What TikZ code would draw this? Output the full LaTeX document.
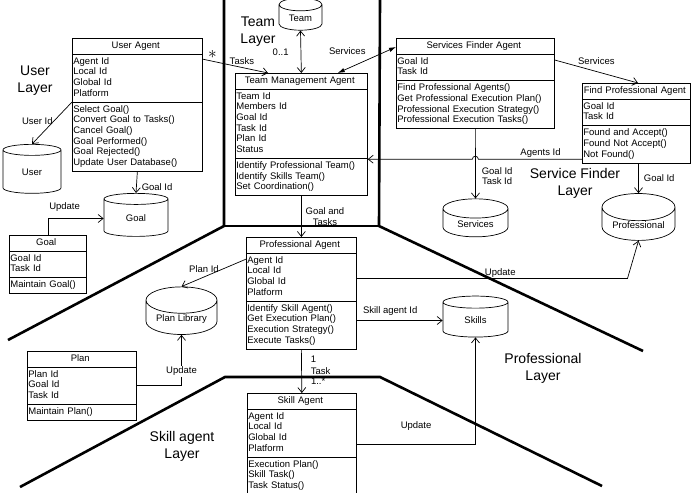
\documentclass[tikz,border=0pt]{standalone}
\usepackage{fontspec}
\setmainfont{Liberation Sans}
\usepackage{tikz}
\usetikzlibrary{positioning, arrows.meta, shapes.geometric,
                shapes.multipart, calc}

\begin{document}
\begin{tikzpicture}[
  x=1pt, y=-1pt,
  >={Straight Barb[length=5pt,width=8pt]},
  every node/.style={font=\fontsize{9.5}{10.7}\selectfont}
]
\tikzset{
  cls/.style    ={rectangle split, rectangle split parts=3, draw=black,
                  line width=0.7pt, align=left, anchor=north west,
                  inner xsep=1pt, inner ysep=2.2pt,
                  every text node part/.style={align=center},
                  execute at begin node=\strut, execute at end node=\strut},
  db/.style     ={cylinder, shape border rotate=90, aspect=0.5,
                  draw=black, line width=0.7pt, inner sep=1pt},
  arr/.style    ={->, line width=0.7pt},
  biarr/.style  ={{Latex[length=7pt,width=4.5pt]}-{Latex[length=7pt,width=4.5pt]},
                  line width=0.7pt},
  lab/.style    ={inner sep=1pt, align=center},
  layer/.style  ={font=\fontsize{14}{17}\selectfont, align=center},
  wall/.style   ={line width=2.6pt}
}
\useasboundingbox (0,0) rectangle (692,492);

%% ----- Layer borders -----
\draw[wall] (224,0) -- (224,226) -- (8,340);
\draw[wall] (224,226) -- (379,226);
\draw[wall] (380,0) -- (379,226) -- (643,351);
\draw[wall] (20,487) -- (225,377) -- (380,377) -- (602,486);

\node[layer] (lu) at (35,81)   {User\\Layer};
\node[layer] (lt) at (258,32)  {Team\\Layer};
\node[layer] (ls) at (575,183) {Service Finder\\Layer};
\node[layer] (lp) at (543,368) {Professional\\Layer};
\node[layer] (lk) at (182,446) {Skill agent\\Layer};

%% ----- User layer -----
\node[cls, text width=128pt] (ua) at (72,38)
  {User Agent
   \nodepart{two}Agent Id\\Local Id\\Global Id\\Platform
   \nodepart{three}Select Goal()\\Convert Goal to Tasks()\\Cancel Goal()\\
   Goal Performed()\\Goal Rejected()\\Update User Database()};
\node[db, minimum width=58pt, minimum height=49pt] (usr) at (32,172.5) {User};
\node[db, minimum width=64pt, minimum height=43pt] (goal) at (136,218.5) {Goal};
\node[cls, text width=75pt] (gcl) at (9,235)
  {Goal
   \nodepart{two}Goal Id\\Task Id
   \nodepart{three}Maintain Goal()};

\draw[arr] (ua.two split west) -- (usr.north)
  node[lab, pos=0.45, left] {User Id};
\draw[arr] (ua.south) -- (goal.north)
  node[lab, pos=0.7, right=4pt] {Goal Id};
\draw[arr] (gcl.north) |- (goal.west)
  node[lab, pos=0.65, above=6pt] {Update};

%% ----- Team layer -----
\node[db, minimum width=43pt, minimum height=32pt] (team) at (300.5,18.5) {Team};
\node[cls, text width=130pt] (tma) at (235,73)
  {Team Management Agent
   \nodepart{two}Team Id\\Members Id\\Goal Id\\Task Id\\Plan Id\\Status
   \nodepart{three}Identify Professional Team()\\Identify Skills Team()\\
   Set Coordination()};

\draw[<->, line width=0.7pt] (team.south) -- (tma.north)
  node[lab, midway, left=11pt] {0..1};
\draw[arr] ([yshift=-5pt]ua.text split east) -- ([xshift=33pt]tma.north west)
  node[lab, pos=0.15, above=1pt] {\fontsize{17}{17}\selectfont$\ast$}
  node[lab, pos=0.6, above=2pt] {Tasks};

%% ----- Service finder layer -----
\node[cls, text width=156pt] (sfa) at (396,38)
  {Services Finder Agent
   \nodepart{two}Goal Id\\Task Id
   \nodepart{three}Find Professional Agents()\\Get Professional Execution Plan()\\
   Professional Execution Strategy()\\Professional Execution Tasks()};
\node[cls, text width=106pt] (fpa) at (582,83)
  {Find Professional Agent
   \nodepart{two}Goal Id\\Task Id
   \nodepart{three}Found and Accept()\\Found Not Accept()\\Not Found()};
\node[db, minimum width=65pt, minimum height=38pt] (srv) at (475.5,224) {Services};
\node[db, minimum width=73pt, minimum height=41pt] (prof) at (638.5,225.5) {Professional};

\draw[biarr] ([xshift=-30pt]tma.north east) -- ([yshift=-9pt]sfa.north west)
  node[lab, midway, anchor=south east, yshift=4pt] {Services};
\draw[arr] ([yshift=-22pt]sfa.north east) -- ([xshift=56pt]fpa.north west)
  node[lab, midway, above=6pt] {Services};
\draw[arr] ([yshift=4pt]fpa.south west) coordinate (aid)
  -- node[lab, pos=0.4, above] {Agents Id} ([xshift=3pt]aid -| sfa.south)
  arc[start angle=0, end angle=180, radius=3pt]
  -- (aid -| tma.east);
\draw[arr] (sfa.south) -- (srv.north)
  node[lab, pos=0.68, right=5pt] {Goal Id\\Task Id};
\draw[arr] (prof.north |- fpa.south) -- (prof.north)
  node[lab, midway, right=4pt] {Goal Id};

%% ----- Professional layer -----
\node[cls, text width=108pt] (pa) at (246,237)
  {Professional Agent
   \nodepart{two}Agent Id\\Local Id\\Global Id\\Platform
   \nodepart{three}Identify Skill Agent()\\Get Execution Plan()\\
   Execution Strategy()\\Execute Tasks()};
\node[db, minimum width=71pt, minimum height=42pt] (plib) at (181.5,319) {Plan Library};
\node[db, minimum width=65pt, minimum height=41pt] (skl) at (475.5,320.5) {Skills};
\node[cls, text width=107pt] (plan) at (27,351)
  {Plan
   \nodepart{two}Plan Id\\Goal Id\\Task Id
   \nodepart{three}Maintain Plan()};

\draw[arr] (tma.south) -- (pa.north)
  node[lab, midway, right=3pt] {Goal and\\Tasks};
\draw[arr] ([yshift=-6pt]pa.text split west) -- (plib.north)
  node[lab, pos=0.37, left=2pt] {Plan Id};
\draw[arr] ([yshift=14.7pt]pa.east) coordinate (pu)
  -- node[lab, pos=0.53, above] {Update} ([xshift=-11pt]pu -| prof.south)
  -- (prof.south);
\draw[arr] (skl.west -| pa.east) -- (skl.west)
  node[lab, pos=0.39, above=4pt] {Skill agent Id};
\draw[arr] (plan.east) -| (plib.south)
  node[lab, pos=0.64, fill=white] {Update};

%% ----- Skill agent layer -----
\node[cls, text width=107pt] (sa) at (247,393)
  {Skill Agent
   \nodepart{two}Agent Id\\Local Id\\Global Id\\Platform
   \nodepart{three}Execution Plan()\\Skill Task()\\Task Status()};

\draw[arr] (pa.south) -- (sa.north)
  node[lab, pos=0.23, right=8pt] {1}
  node[lab, pos=0.5, right=8pt] {Task}
  node[lab, pos=0.74, right=8pt] {1..*};
\draw[arr] ([yshift=13pt]sa.two split east) -| (skl.south)
  node[lab, pos=0.25, above=12pt] {Update};

\end{tikzpicture}
\end{document}
